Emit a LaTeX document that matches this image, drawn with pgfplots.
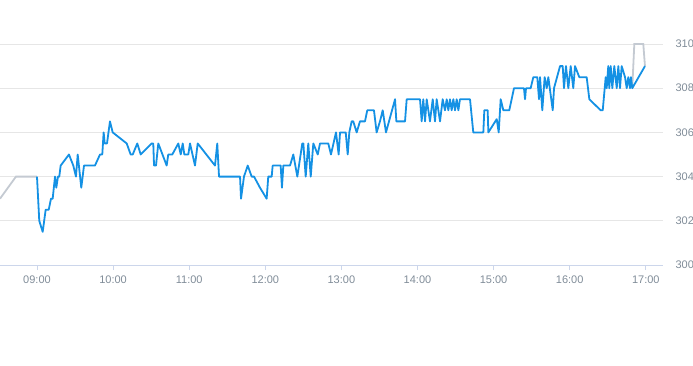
\documentclass[border=0pt]{standalone}
\usepackage{pgfplots}
\pgfplotsset{compat=1.18}
\usepackage{fontspec}
\setmainfont{Liberation Sans}
\definecolor{lineblue}{RGB}{20,145,228}
\definecolor{linegray}{RGB}{196,202,210}
\definecolor{gridc}{RGB}{230,230,230}
\definecolor{axisc}{RGB}{204,214,235}
\definecolor{labc}{RGB}{128,140,152}
\begin{document}
\begin{tikzpicture}[x=1pt,y=1pt]
\begin{axis}[
  at={(0pt,100pt)}, anchor=south west,
  scale only axis, width=663pt, height=221pt,
  xmin=8.514, xmax=17.226, ymin=300, ymax=310,
  axis x line*=bottom, axis y line*=right,
  separate axis lines,
  x axis line style={draw=axisc, line width=0.8pt},
  y axis line style={draw=none},
  ymajorgrids, grid style={draw=gridc, line width=0.8pt},
  xtick={9,10,11,12,13,14,15,16,17},
  xticklabels={09:00,10:00,11:00,12:00,13:00,14:00,15:00,16:00,17:00},
  ytick={300,302,304,306,308,310},
  xtick align=outside, major tick length=5pt,
  xtick style={draw=axisc, line width=0.8pt},
  ytick style={draw=none},
  /pgf/number format/assume math mode=true,
  /pgf/number format/1000 sep={},
  tick label style={font=\fontsize{11}{13}\selectfont, text=labc},
  xticklabel style={yshift=-2pt},
  yticklabel style={anchor=west, xshift=9pt},
  clip=false,
]
\addplot[linegray, line width=1.8pt] coordinates {
(8.514,303) (8.724,304) (9.000,304)
};
\addplot[linegray, line width=1.8pt] coordinates {
(16.822,308) (16.849,310) (16.967,310) (16.989,309)
};
\addplot[lineblue, line width=1.8pt, line join=round] table {
x y
9.000 304
9.030 302
9.075 301.5
9.114 302.5
9.154 302.5
9.184 303
9.206 303
9.237 304
9.254 303.5
9.276 304
9.293 304
9.311 304.5
9.420 305
9.477 304.5
9.512 304
9.535 305
9.582 303.5
9.618 304.5
9.762 304.5
9.828 305
9.858 305
9.876 306
9.890 305.5
9.920 305.5
9.959 306.5
9.995 306
10.179 305.5
10.231 305
10.258 305
10.318 305.5
10.363 305
10.507 305.5
10.528 305.5
10.538 304.5
10.564 304.5
10.594 305.5
10.704 304.5
10.725 305
10.778 305
10.857 305.5
10.889 305
10.915 305.5
10.936 305
10.988 305
11.011 305.5
11.076 304.5
11.112 305.5
11.339 304.5
11.369 305.5
11.392 304
11.668 304
11.681 303
11.720 304
11.769 304.5
11.821 304
11.852 304
11.930 303.5
12.018 303
12.039 304
12.084 304
12.097 304.5
12.202 304.5
12.219 303.5
12.237 304.5
12.325 304.5
12.368 305
12.421 304
12.486 305.5
12.500 305.5
12.531 304
12.565 305.5
12.597 304
12.631 305.5
12.689 305
12.719 305.5
12.828 305.5
12.863 305
12.929 306
12.964 305
12.982 306
13.057 306
13.083 305
13.104 306
13.135 306.5
13.156 306.5
13.201 306
13.244 306.5
13.310 306.5
13.340 307
13.428 307
13.463 306
13.507 306.5
13.543 307
13.586 306
13.705 307.5
13.722 306.5
13.836 306.5
13.858 307.5
14.033 307.5
14.055 306.5
14.076 307.5
14.099 306.5
14.121 307.5
14.164 306.5
14.200 307.5
14.230 306.5
14.252 307.5
14.296 306.5
14.331 307.5
14.361 307
14.384 307.5
14.405 307
14.427 307.5
14.449 307
14.471 307.5
14.493 307
14.515 307.5
14.537 307
14.558 307.5
14.690 307.5
14.733 306
14.865 306
14.878 307
14.922 307
14.931 306
15.041 306.6
15.067 306
15.093 307.5
15.128 307
15.206 307
15.268 308
15.399 308
15.413 307.5
15.426 308
15.487 308
15.522 308.5
15.574 308.5
15.597 307.5
15.610 308.5
15.640 307
15.671 308.5
15.698 308
15.719 308.5
15.777 307
15.794 308
15.873 309
15.908 309
15.925 308
15.951 309
15.982 308
16.013 309
16.047 308
16.070 309
16.126 308.5
16.223 308.5
16.258 307.5
16.407 307
16.434 307
16.473 308.5
16.486 308
16.507 309
16.520 308
16.539 309
16.560 308
16.586 309
16.618 308
16.639 309
16.661 308
16.683 309
16.727 308.5
16.749 308
16.770 308.5
16.792 308
16.805 308.5
16.822 308
16.989 309
};
\end{axis}
\pgfresetboundingbox
\path (0pt,0pt) rectangle (693pt,365pt);
\end{tikzpicture}
\end{document}
